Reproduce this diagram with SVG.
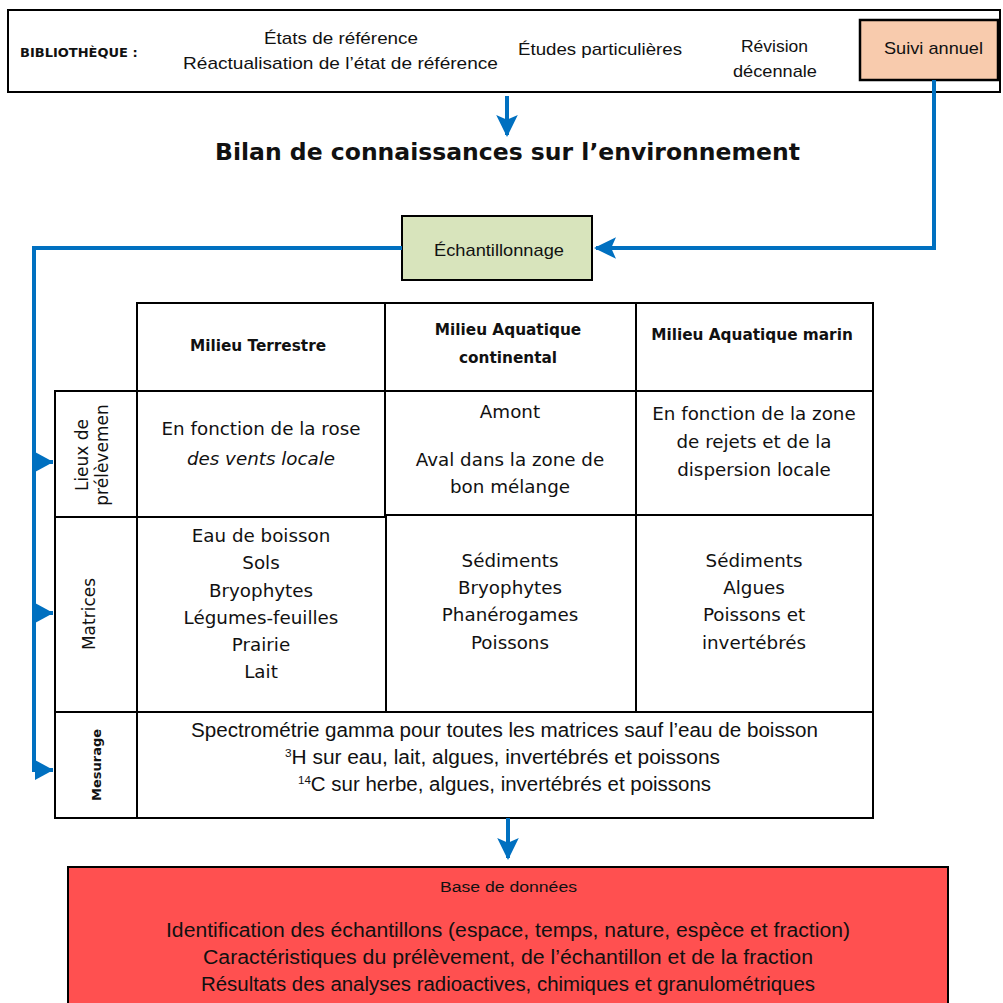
<svg xmlns="http://www.w3.org/2000/svg" width="1003" height="1003" viewBox="0 0 1003 1003">
<style>
.box{stroke:#000;stroke-width:2}
.t{font-family:"Liberation Sans",Arial,sans-serif;fill:#111;text-anchor:middle}
.d{font-family:"DejaVu Sans",Verdana,sans-serif;fill:#111;text-anchor:middle}
.b{font-weight:bold}
.cell{fill:#fff;stroke:#000;stroke-width:2}
.con{stroke:#0070C0;stroke-width:4;fill:none}
</style>
<defs>
<marker id="ah" markerWidth="6" markerHeight="6" refX="5" refY="3" orient="auto" markerUnits="strokeWidth">
<path d="M0,0.3 L5.5,3 L0,5.7 L1.2,3 z" fill="#0070C0"/>
</marker>
<marker id="tri" markerWidth="5" markerHeight="5" refX="4.5" refY="2.5" orient="auto" markerUnits="strokeWidth">
<path d="M0,0 L4.6,2.5 L0,5 z" fill="#0070C0"/>
</marker>
</defs>
<rect width="1003" height="1003" fill="#fff"/>

<g id="bibliotheque">
<rect x="8" y="10" width="992" height="82" fill="#fff" class="box"/>
<text x="20" y="57" font-size="13" class="d b" style="text-anchor:start">BIBLIOTHÈQUE :</text>
<text x="341" y="44" font-size="17" class="t" textLength="154" lengthAdjust="spacingAndGlyphs">États de référence</text>
<text x="340.5" y="69" font-size="17" class="t" textLength="315" lengthAdjust="spacingAndGlyphs">Réactualisation de l’état de référence</text>
<text x="600" y="55" font-size="17" class="t" textLength="164" lengthAdjust="spacingAndGlyphs">Études particulières</text>
<text x="774.5" y="52" font-size="17" class="t" textLength="67" lengthAdjust="spacingAndGlyphs">Révision</text>
<text x="775" y="77" font-size="17" class="t" textLength="84" lengthAdjust="spacingAndGlyphs">décennale</text>
</g>
<g id="suivi">
<rect x="860" y="20" width="138" height="60" fill="#F8CBAD" stroke="#000" stroke-width="2.5"/>
<text x="933.5" y="54" font-size="17" class="t" textLength="99" lengthAdjust="spacingAndGlyphs">Suivi annuel</text>
</g>

<g id="titre">
<text x="507.5" y="160" font-size="23.5" class="d b">Bilan de connaissances sur l’environnement</text>
</g>

<g id="echantillonnage">
<rect x="402" y="216" width="190" height="64" fill="#D8E4BC" class="box"/>
<text x="499" y="256" font-size="17" class="t" textLength="130" lengthAdjust="spacingAndGlyphs">Échantillonnage</text>
</g>

<g id="tableau">
<rect x="137" y="303" width="248" height="88" class="cell"/>
<rect x="385" y="303" width="251" height="88" class="cell"/>
<rect x="636" y="303" width="237" height="88" class="cell"/>
<rect x="55" y="391" width="82" height="126" class="cell"/>
<rect x="137" y="391" width="248" height="126" class="cell"/>
<rect x="385" y="391" width="251" height="124" class="cell"/>
<rect x="636" y="391" width="237" height="124" class="cell"/>
<rect x="55" y="517" width="82" height="195" class="cell"/>
<rect x="137" y="517" width="249" height="195" class="cell"/>
<rect x="386" y="515" width="250" height="197" class="cell"/>
<rect x="636" y="515" width="237" height="197" class="cell"/>
<rect x="55" y="712" width="82" height="106" class="cell"/>
<rect x="137" y="712" width="736" height="106" class="cell"/>

<text x="258" y="351" font-size="15.3" class="d b">Milieu Terrestre</text>
<text x="508" y="335" font-size="15.3" class="d b">Milieu Aquatique</text>
<text x="508" y="363" font-size="15.3" class="d b">continental</text>
<text x="752" y="340" font-size="15.3" class="d b">Milieu Aquatique marin</text>

<text transform="translate(88,455) rotate(-90)" font-size="17" class="d">Lieux de</text>
<text transform="translate(108,455) rotate(-90)" font-size="17" class="d">prélèvemen</text>
<text transform="translate(95,614) rotate(-90)" font-size="17" class="d">Matrices</text>
<text transform="translate(101,765) rotate(-90)" font-size="13" class="d b">Mesurage</text>

<text x="261" y="435" font-size="18.3" class="d">En fonction de la rose</text>
<text x="261" y="465" font-size="18.3" class="d" font-style="italic">des vents locale</text>
<text x="510" y="418" font-size="18.3" class="d">Amont</text>
<text x="510" y="466" font-size="18.3" class="d">Aval dans la zone de</text>
<text x="510" y="493" font-size="18.3" class="d">bon mélange</text>
<text x="754" y="420" font-size="18.3" class="d">En fonction de la zone</text>
<text x="754" y="448" font-size="18.3" class="d">de rejets et de la</text>
<text x="754" y="476" font-size="18.3" class="d">dispersion locale</text>

<text x="261" y="542" font-size="18.3" class="d">Eau de boisson</text>
<text x="261" y="569" font-size="18.3" class="d">Sols</text>
<text x="261" y="597" font-size="18.3" class="d">Bryophytes</text>
<text x="261" y="624" font-size="18.3" class="d">Légumes-feuilles</text>
<text x="261" y="651" font-size="18.3" class="d">Prairie</text>
<text x="261" y="678" font-size="18.3" class="d">Lait</text>

<text x="510" y="567" font-size="18.3" class="d">Sédiments</text>
<text x="510" y="594" font-size="18.3" class="d">Bryophytes</text>
<text x="510" y="621" font-size="18.3" class="d">Phanérogames</text>
<text x="510" y="649" font-size="18.3" class="d">Poissons</text>

<text x="754" y="567" font-size="18.3" class="d">Sédiments</text>
<text x="754" y="594" font-size="18.3" class="d">Algues</text>
<text x="754" y="621" font-size="18.3" class="d">Poissons et</text>
<text x="754" y="649" font-size="18.3" class="d">invertébrés</text>

<text x="504.5" y="737" font-size="19.5" class="t" textLength="627" lengthAdjust="spacingAndGlyphs">Spectrométrie gamma pour toutes les matrices sauf l’eau de boisson</text>
<text x="502.5" y="764" font-size="19.5" class="t" textLength="435" lengthAdjust="spacingAndGlyphs"><tspan font-size="11" dy="-7">3</tspan><tspan dy="7">H sur eau, lait, algues, invertébrés et poissons</tspan></text>
<text x="504.5" y="791" font-size="19.5" class="t" textLength="413" lengthAdjust="spacingAndGlyphs"><tspan font-size="11" dy="-7">14</tspan><tspan dy="7">C sur herbe, algues, invertébrés et poissons</tspan></text>
</g>

<g id="base">
<rect x="68" y="867" width="880" height="140" fill="#FF5050" class="box"/>
<text x="508.5" y="892" font-size="15.5" class="t" textLength="137" lengthAdjust="spacingAndGlyphs">Base de données</text>
<text x="508" y="937" font-size="19.5" class="t" textLength="684" lengthAdjust="spacingAndGlyphs">Identification des échantillons (espace, temps, nature, espèce et fraction)</text>
<text x="508" y="964" font-size="19.5" class="t" textLength="610" lengthAdjust="spacingAndGlyphs">Caractéristiques du prélèvement, de l’échantillon et de la fraction</text>
<text x="508" y="991" font-size="19.5" class="t" textLength="614" lengthAdjust="spacingAndGlyphs">Résultats des analyses radioactives, chimiques et granulométriques</text>
</g>

<g id="connecteurs">
<path class="con" d="M507,96 V135" marker-end="url(#ah)"/>
<path class="con" d="M934,80 V248 H596" marker-end="url(#ah)"/>
<path class="con" d="M402,248 H34 V770 H53" marker-end="url(#tri)"/>
<path class="con" d="M34,462 H53" marker-end="url(#tri)"/>
<path class="con" d="M34,613 H53" marker-end="url(#tri)"/>
<path class="con" d="M508,818 V858" marker-end="url(#ah)"/>
</g>
</svg>
